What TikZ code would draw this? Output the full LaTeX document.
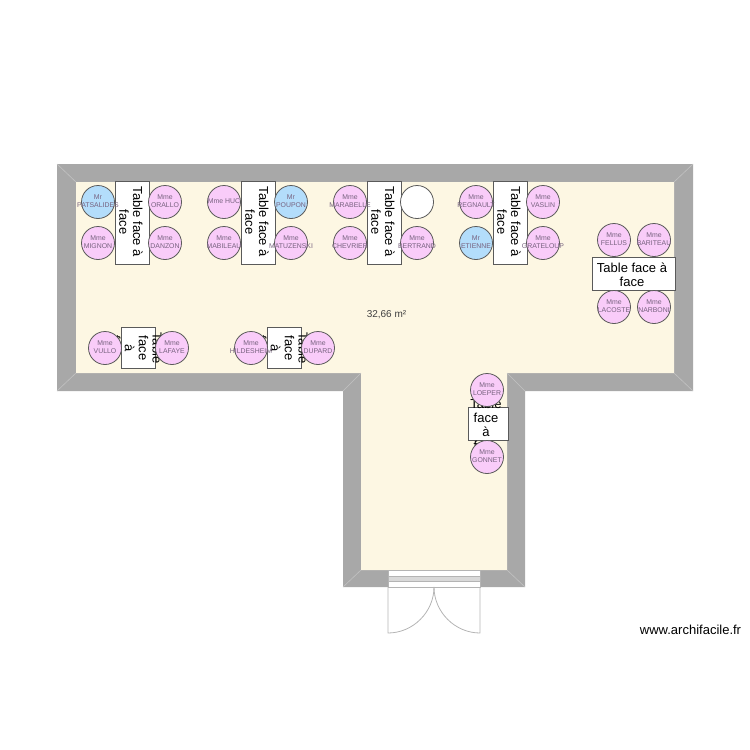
\documentclass[tikz,border=0pt]{standalone}
\usepackage{fontspec}
\setmainfont{Liberation Sans}
\usepackage{xcolor}
\definecolor{wallgray}{HTML}{A8A8A8}
\definecolor{floorcream}{HTML}{FDF7E3}
\definecolor{seatpink}{HTML}{F9CCF9}
\definecolor{seatblue}{HTML}{B3DDFB}
\definecolor{seatline}{HTML}{5A5A5A}
\definecolor{seatink}{HTML}{77627F}
\definecolor{doorgray}{HTML}{B4B4B4}

\begin{document}
\begin{tikzpicture}[x=1pt,y=-1pt]
    \tikzstyle{tablebox} = [draw=seatline, fill=white, shape=rectangle, line width=1pt, inner sep=0pt]
    \tikzstyle{tabletext} = [align=center, inner sep=0pt, font=\fontsize{13}{13.8}\selectfont]
    \tikzstyle{seat} = [draw=seatline, shape=circle, line width=0.8pt, minimum size=33pt, inner sep=0pt]
    \tikzstyle{seatname} = [align=center, inner sep=0pt, yshift=1pt, text=seatink, font=\fontsize{6.9}{7.7}\selectfont]
    \tikzstyle{mme} = [seat, fill=seatpink]
    \tikzstyle{mr} = [seat, fill=seatblue]
    \tikzstyle{wallseam} = [draw=white!30!wallgray, line width=0.6pt]
    \tikzstyle{door} = [draw=doorgray, line width=0.8pt]
    \useasboundingbox (0,0) rectangle (750,750);
    %Creating Walls and Floor
    \coordinate (o1) at (57,164);
    \coordinate (o2) at (693,164);
    \coordinate (o3) at (693,391);
    \coordinate (o4) at (525,391);
    \coordinate (o5) at (525,587);
    \coordinate (o6) at (343,587);
    \coordinate (o7) at (343,391);
    \coordinate (o8) at (57,391);
    \coordinate (i1) at (76,182);
    \coordinate (i2) at (674,182);
    \coordinate (i3) at (674,373);
    \coordinate (i4) at (507,373);
    \coordinate (i5) at (507,570);
    \coordinate (i6) at (361,570);
    \coordinate (i7) at (361,373);
    \coordinate (i8) at (76,373);
    \fill[wallgray] (o1) -- (o2) -- (o3) -- (o4) -- (o5) -- (o6) -- (o7) -- (o8) -- cycle;
    \fill[floorcream] (i1) -- (i2) -- (i3) -- (i4) -- (i5) -- (i6) -- (i7) -- (i8) -- cycle;
    \foreach \n in {1,...,8}
        \draw[wallseam] (o\n) -- (i\n);
    %Creating Door
    \node [door, fill=white, shape=rectangle, minimum width=92pt, minimum height=17pt, inner sep=0pt] (frame) at (434,578.5) {};
    \node [door, fill=black!15, shape=rectangle, minimum width=92pt, minimum height=5pt, inner sep=0pt] (sill) at (434,578.5) {};
    \coordinate (hingel) at (388,587);
    \coordinate (hinger) at (480,587);
    \coordinate (leafl) at (388,633);
    \coordinate (leafr) at (480,633);
    \coordinate (doormid) at (434,587);
    \draw[door] (hingel) -- (leafl) .. controls (413,633) and (434,612) .. (doormid);
    \draw[door] (hinger) -- (leafr) .. controls (455,633) and (434,612) .. (doormid);
    %Creating Tables
    \node [tablebox, minimum width=34pt, minimum height=83pt] (table1) at (132,222.5) {};
    \node [tablebox, minimum width=34pt, minimum height=83pt] (table2) at (258,222.5) {};
    \node [tablebox, minimum width=34pt, minimum height=83pt] (table3) at (384,222.5) {};
    \node [tablebox, minimum width=34pt, minimum height=83pt] (table4) at (510,222.5) {};
    \node [tablebox, minimum width=83pt, minimum height=33pt] (table5) at (634,273.5) {};
    \node [tablebox, minimum width=34pt, minimum height=41pt] (table6) at (138,348) {};
    \node [tablebox, minimum width=34pt, minimum height=41pt] (table7) at (284,348) {};
    \node [tablebox, minimum width=40pt, minimum height=33pt] (table8) at (488,423.5) {};
    \node [tabletext, rotate=-90] (text1) at (131,222) {Table face à\\face};
    \node [tabletext, rotate=-90] (text2) at (257,222) {Table face à\\face};
    \node [tabletext, rotate=-90] (text3) at (383,222) {Table face à\\face};
    \node [tabletext, rotate=-90] (text4) at (509,222) {Table face à\\face};
    \node [tabletext] (text5) at (632,275) {Table face à\\face};
    \node [tabletext, rotate=-90] (text6) at (136.5,348) {Table\\face\\à\\face};
    \node [tabletext, rotate=-90] (text7) at (282.5,348) {Table\\face\\à\\face};
    \node [tabletext] (text8) at (486,425) {Table\\face\\à\\face};
    %Creating Seats
    \node [mr, label={[seatname]center:Mr\\PATSALIDES}] (patsalides) at (98,202) {};
    \node [mme, label={[seatname]center:Mme\\ORALLO}] (orallo) at (165,202) {};
    \node [mme, label={[seatname]center:Mme\\MIGNON}] (mignon) at (98,243) {};
    \node [mme, label={[seatname]center:Mme\\DANZON}] (danzon) at (165,243) {};
    \node [mme, label={[seatname]center:Mme HUC}] (huc) at (224,202) {};
    \node [mr, label={[seatname]center:Mr\\POUPON}] (poupon) at (291,202) {};
    \node [mme, label={[seatname]center:Mme\\MABILEAU}] (mabileau) at (224,243) {};
    \node [mme, label={[seatname]center:Mme\\MATUZENSKI}] (matuzenski) at (291,243) {};
    \node [mme, label={[seatname]center:Mme\\MARABELLE}] (marabelle) at (350,202) {};
    \node [seat, fill=white] (free) at (417,202) {};
    \node [mme, label={[seatname]center:Mme\\CHEVRIER}] (chevrier) at (350,243) {};
    \node [mme, label={[seatname]center:Mme\\BERTRAND}] (bertrand) at (417,243) {};
    \node [mme, label={[seatname]center:Mme\\REGNAULT}] (regnault) at (476,202) {};
    \node [mme, label={[seatname]center:Mme\\VASLIN}] (vaslin) at (543,202) {};
    \node [mr, label={[seatname]center:Mr\\ETIENNE}] (etienne) at (476,243) {};
    \node [mme, label={[seatname]center:Mme\\GRATELOUP}] (grateloup) at (543,243) {};
    \node [mme, label={[seatname]center:Mme\\FELLUS}] (fellus) at (614,240) {};
    \node [mme, label={[seatname]center:Mme\\BARITEAU}] (bariteau) at (654,240) {};
    \node [mme, label={[seatname]center:Mme\\LACOSTE}] (lacoste) at (614,307) {};
    \node [mme, label={[seatname]center:Mme\\NARBONI}] (narboni) at (654,307) {};
    \node [mme, label={[seatname]center:Mme\\VULLO}] (vullo) at (105,348) {};
    \node [mme, label={[seatname]center:Mme\\LAFAYE}] (lafaye) at (172,348) {};
    \node [mme, label={[seatname]center:Mme\\HILDESHEIM}] (hildesheim) at (251,348) {};
    \node [mme, label={[seatname]center:Mme\\DUPARD}] (dupard) at (318,348) {};
    \node [mme, label={[seatname]center:Mme\\LOEPER}] (loeper) at (487,390) {};
    \node [mme, label={[seatname]center:Mme\\GONNET}] (gonnet) at (487,457) {};
    %Creating Labels
    \node [inner sep=0pt, text=black!75, font=\fontsize{10}{11}\selectfont] (area) at (386.5,314.5) {32,66 m²};
    \node [inner sep=0pt, font=\fontsize{13}{14}\selectfont] (site) at (690.5,630) {www.archifacile.fr};
\end{tikzpicture}
\end{document}
